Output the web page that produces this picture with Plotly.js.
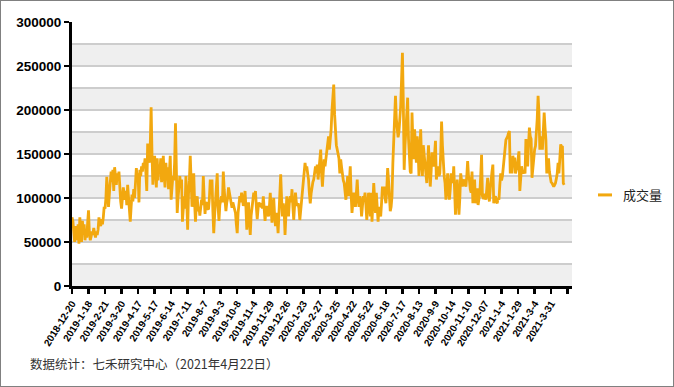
<!DOCTYPE html>
<html>
<head>
<meta charset="utf-8">
<script src="https://cdn.plot.ly/plotly-3.0.1.min.js"></script>
<style>
  html, body { margin: 0; padding: 0; background: #fff; }
  #chart { width: 672px; height: 385px; border: 1px solid #808080; }
</style>
</head>
<body>
<div id="chart"></div>
<script>
// Tick labels of the category (trading-day) axis, one every 19 trading days
const tickLabels = ["2018-12-20","2019-1-18","2019-2-21","2019-3-20","2019-4-17","2019-5-17","2019-6-14","2019-7-11","2019-8-7","2019-9-3","2019-10-8","2019-11-4","2019-11-29","2019-12-26","2020-1-23","2020-2-27","2020-3-25","2020-4-22","2020-5-22","2020-6-18","2020-7-17","2020-8-13","2020-9-9","2020-10-14","2020-11-10","2020-12-07","2021-1-4","2021-1-29","2021-3-4","2021-3-31"];
const labelStep = 19;
const seriesName = "成交量";
const sourceNote = "数据统计：七禾研究中心（2021年4月22日）";
const lineColor = '#F2A80F';

// Daily trading volume (2018-12-20 .. 2021-4-22)
const volume = [
78000,74000,62000,50000,68000,55000,52000,70000,48000,78000,
60000,50000,74000,58000,70000,52000,62000,55000,72000,86000,
60000,52000,56000,62000,58000,66000,60000,55000,62000,58000,
64000,78000,72000,68000,76000,70000,78000,90000,88000,100000,
124000,110000,90000,105000,122000,130000,118000,132000,108000,135000,
125000,115000,128000,122000,130000,110000,96000,88000,100000,112000,
105000,98000,108000,92000,115000,100000,84000,73000,90000,104000,
96000,110000,100000,112000,134000,122000,128000,95000,132000,125000,
136000,130000,140000,135000,145000,128000,108000,162000,150000,140000,
160000,203000,150000,115000,140000,148000,130000,112000,145000,120000,
138000,128000,145000,118000,130000,148000,125000,112000,140000,120000,
135000,110000,130000,148000,98000,110000,125000,120000,140000,185000,
128000,83000,100000,118000,125000,112000,121000,73000,95000,102000,
88000,125000,95000,64000,105000,120000,148000,110000,90000,105000,
128000,95000,73000,92000,102000,85000,90000,80000,88000,98000,
92000,125000,100000,82000,95000,94000,88000,87000,100000,121000,
105000,121000,85000,60000,80000,95000,110000,128000,90000,74000,
92000,98000,102000,95000,130000,110000,91000,85000,95000,100000,
112000,105000,98000,92000,89000,95000,91000,85000,83000,70000,
60000,83000,92000,102000,95000,106000,100000,91000,95000,108000,
90000,64000,80000,95000,75000,58000,80000,91000,98000,106000,
100000,108000,90000,76000,88000,95000,92000,91000,94000,88000,
102000,90000,74000,85000,91000,85000,79000,90000,106000,88000,
72000,90000,100000,80000,68000,83000,75000,60000,80000,98000,
127000,100000,79000,94000,85000,58000,80000,102000,90000,79000,
95000,102000,95000,110000,90000,75000,92000,106000,95000,91000,
94000,88000,75000,85000,98000,105000,113000,125000,140000,132000,
136000,128000,121000,105000,94000,105000,113000,118000,121000,130000,
136000,128000,138000,121000,135000,144000,155000,128000,113000,130000,
144000,136000,145000,151000,160000,170000,155000,165000,178000,200000,
215000,229000,195000,167000,160000,155000,150000,145000,128000,144000,
135000,125000,120000,117000,108000,98000,112000,125000,102000,120000,
136000,105000,83000,95000,106000,98000,90000,105000,121000,100000,
90000,102000,96000,79000,88000,102000,98000,106000,92000,75000,
90000,106000,95000,79000,106000,73000,95000,117000,100000,83000,
106000,85000,73000,90000,85000,79000,95000,113000,105000,113000,
100000,94000,110000,134000,120000,106000,85000,90000,102000,140000,
170000,195000,216000,190000,180000,169000,175000,186000,205000,235000,
265000,210000,132000,160000,178000,195000,214000,167000,136000,130000,
128000,197000,165000,144000,178000,155000,140000,170000,155000,125000,
150000,178000,140000,125000,160000,150000,140000,125000,117000,140000,
160000,135000,113000,130000,152000,140000,136000,150000,165000,121000,
128000,136000,125000,128000,150000,187000,160000,136000,125000,117000,
98000,110000,128000,110000,98000,110000,128000,120000,117000,136000,
105000,81000,100000,121000,105000,81000,100000,128000,120000,113000,
118000,121000,117000,113000,125000,142000,125000,121000,110000,106000,
130000,94000,110000,121000,94000,108000,111000,92000,100000,106000,
125000,149000,102000,100000,100000,105000,98000,110000,123000,105000,
96000,110000,125000,130000,138000,94000,100000,102000,96000,94000,
100000,98000,115000,128000,120000,125000,135000,148000,158000,166000,
168000,170000,174000,176000,128000,135000,128000,148000,140000,146000,
128000,132000,136000,145000,153000,108000,122000,136000,130000,128000,
130000,128000,167000,150000,136000,160000,180000,170000,167000,123000,
135000,148000,155000,159000,170000,190000,216000,197000,155000,165000,
170000,155000,175000,197000,180000,166000,128000,140000,145000,130000,
121000,118000,117000,114000,113000,115000,117000,122000,128000,140000,
128000,145000,161000,158000,159000,117000,115000
];

const xIdx = volume.map((_, i) => i);
const tickVals = [];
const tickText = [];
for (let i = 0; i <= tickLabels.length; i++) {
  tickVals.push(i * labelStep);
  tickText.push(i < tickLabels.length ? tickLabels[i] : "");
}

// alternating grey bands every 25000
const shapes = [];
for (let v = 0; v < 300000; v += 50000) {
  shapes.push({type: 'rect', xref: 'paper', yref: 'y', x0: 0, x1: 1, y0: v, y1: v + 25000,
              fillcolor: '#efefef', line: {width: 0}, layer: 'below'});
}
// legend key (drawn beside the plot)
shapes.push({type: 'line', xref: 'paper', yref: 'paper', x0: 1.052, x1: 1.080, y0: 0.345, y1: 0.345,
             line: {color: lineColor, width: 3}});

const trace = {
  x: xIdx, y: volume, type: 'scatter', mode: 'lines', name: seriesName,
  line: {color: lineColor, width: 2.8}
};

const layout = {
  width: 672, height: 385,
  margin: {l: 71, r: 101, t: 21, b: 100},
  paper_bgcolor: '#ffffff', plot_bgcolor: '#ffffff',
  showlegend: false,
  xaxis: {
    range: [0, 575], showgrid: false, zeroline: false,
    showline: true, linecolor: '#000', linewidth: 3,
    ticks: 'outside', ticklen: 5, tickwidth: 2.5, tickcolor: '#000',
    tickmode: 'array', tickvals: tickVals, ticktext: tickText, tickangle: -58,
    tickfont: {family: 'Arial, Liberation Sans', size: 10, color: '#000', weight: 'bold'}
  },
  yaxis: {
    range: [0, 300000], dtick: 50000, tick0: 0, zeroline: false,
    showline: true, linecolor: '#000', linewidth: 3,
    ticks: 'outside', ticklen: 5, tickwidth: 2.5, tickcolor: '#000',
    showgrid: true, gridcolor: '#cdcdcd', gridwidth: 1.5,
    minor: {dtick: 25000, tick0: 0, showgrid: true, gridcolor: '#cdcdcd', gridwidth: 1.5, ticks: ''},
    tickformat: 'd',
    tickfont: {family: 'Arial, Liberation Sans', size: 13.5, color: '#000', weight: 'bold'}
  },
  shapes: shapes,
  annotations: [{
    text: sourceNote, xref: 'paper', yref: 'paper', x: -0.088, y: -0.294,
    xanchor: 'left', yanchor: 'middle', showarrow: false,
    font: {family: 'Noto Sans CJK SC', size: 12.5, color: '#333'}
  }, {
    text: seriesName, xref: 'paper', yref: 'paper', x: 1.098, y: 0.345,
    xanchor: 'left', yanchor: 'middle', showarrow: false,
    font: {family: 'Noto Sans CJK SC', size: 13, color: '#222'}
  }]
};

Plotly.newPlot('chart', [trace], layout, {displayModeBar: false, staticPlot: true});
</script>
</body>
</html>
